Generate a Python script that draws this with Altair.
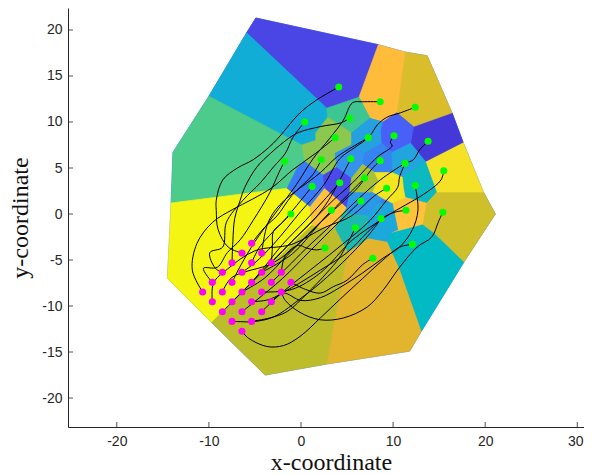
import altair as alt
import pandas as pd

xticks = [-20, -10, 0, 10, 20, 30]
yticks = [-20, -15, -10, -5, 0, 5, 10, 15, 20]

cells = [
 ("#3A7CF8", [(-5.9,19.7),(-4.9,21.3),(8.4,18.4),(11.3,17.6),(13.7,17.2),(16.4,11.0),(17.6,7.8),(19.8,2.4),(21.1,0.0),(17.7,-5.2),(13.1,-12.7),(11.8,-14.9),(2.8,-16.3),(-3.9,-17.5),(-9.7,-11.8),(-14.5,-7.0),(-14.1,1.2),(-13.9,6.7),(-10.0,12.8)]),
 ("#4A45E5", [(-5.9,19.7),(-4.9,21.3),(8.4,18.4),(6.3,12.7),(2.8,11.5)]),
 ("#12ADD6", [(-5.9,19.7),(2.8,11.5),(2.9,10.5),(1.6,8.8),(1.6,8.0),(0.1,7.5),(-10.0,12.8)]),
 ("#4DCB8A", [(-13.9,6.7),(-10.0,12.8),(0.1,7.5),(0.4,5.7),(-0.4,5.0),(-1.5,2.8),(-14.1,1.2)]),
 ("#F5F514", [(-14.1,1.2),(-1.5,2.8),(1.0,0.8),(1.2,-1.2),(-9.7,-11.8),(-14.5,-7.0)]),
 ("#BDBD2B", [(-9.7,-11.8),(1.2,-1.2),(2.1,-1.5),(3.7,-1.5),(5.1,-4.1),(2.8,-16.3),(-3.9,-17.5)]),
 ("#E3B52F", [(5.1,-4.1),(7.3,-2.6),(9.4,-3.0),(10.7,-5.9),(13.1,-12.7),(11.8,-14.9),(2.8,-16.3)]),
 ("#02BAC4", [(9.4,-3.0),(9.8,-2.0),(13.2,-1.1),(14.5,-2.1),(17.7,-5.2),(13.1,-12.7),(10.7,-5.9)]),
 ("#CFBF2B", [(13.2,-1.1),(13.6,1.2),(14.7,2.4),(19.8,2.4),(21.1,0.0),(17.7,-5.2),(14.5,-2.1)]),
 ("#F5E126", [(17.6,7.8),(13.5,5.7),(14.7,2.4),(19.8,2.4)]),
 ("#4538D8", [(16.4,11.0),(17.6,7.8),(13.5,5.7),(11.9,7.7),(12.2,9.5)]),
 ("#D9BD2A", [(11.3,17.6),(13.7,17.2),(16.4,11.0),(12.2,9.5),(10.4,11.0)]),
 ("#FFBB3A", [(8.4,18.4),(11.3,17.6),(10.4,11.0),(8.9,10.0),(7.5,10.4),(6.3,12.7)]),
 ("#3DC692", [(2.8,11.5),(6.3,12.7),(7.5,10.4),(5.5,8.8),(3.1,10.4),(2.9,10.5)]),
 ("#8CC74F", [(2.9,10.5),(3.1,10.4),(5.5,8.8),(5.5,7.5),(3.7,6.6),(3.9,5.1),(2.4,4.2),(0.4,5.7),(0.1,7.5),(1.6,8.0),(1.6,8.8)]),
 ("#3A7CF8", [(-1.5,2.8),(-0.4,5.0),(0.4,5.7),(2.4,4.2),(2.6,2.8),(1.0,0.8)]),
 ("#FFC23B", [(1.0,0.8),(2.6,2.8),(3.9,1.7),(5.0,0.7),(3.7,-1.5),(2.1,-1.5),(1.2,-1.2)]),
 ("#4A4AE8", [(2.4,4.2),(3.9,5.1),(5.5,3.9),(5.3,2.4),(5.0,0.7),(3.9,1.7),(2.6,2.8)]),
 ("#3593EE", [(3.7,6.6),(5.5,7.5),(6.9,6.6),(6.7,5.4),(5.5,3.9),(3.9,5.1)]),
 ("#25A0E0", [(5.5,8.8),(7.5,10.4),(8.9,10.0),(8.7,9.1),(8.8,7.7),(6.9,6.6),(5.5,7.5)]),
 ("#4860F8", [(8.7,9.1),(8.9,10.0),(10.4,11.0),(12.2,9.5),(11.9,7.7),(9.9,6.7),(8.8,7.7)]),
 ("#3584F0", [(6.9,6.6),(8.8,7.7),(9.9,6.7),(9.9,4.5),(8.0,4.5),(6.7,5.4)]),
 ("#22A5DE", [(9.9,6.7),(11.9,7.7),(13.5,5.7),(11.0,4.0),(9.9,4.5)]),
 ("#0DB9C0", [(11.0,4.0),(13.5,5.7),(14.7,2.4),(13.6,1.2),(11.3,1.8),(11.1,2.9)]),
 ("#FFC23B", [(9.9,1.2),(11.3,1.8),(13.6,1.2),(13.2,-1.1),(9.8,-2.0),(10.5,-1.7)]),
 ("#1CA8DA", [(7.2,-0.1),(8.3,1.2),(9.9,1.2),(10.5,-1.7),(9.8,-2.0),(9.4,-3.0),(7.3,-2.6)]),
 ("#1DB9B0", [(5.0,0.7),(5.1,0.1),(7.2,-0.1),(7.3,-2.6),(5.1,-4.1),(3.7,-1.5)]),
 ("#2D97E8", [(5.0,0.7),(5.3,2.4),(6.2,2.4),(7.8,2.4),(8.9,1.7),(8.3,1.2),(7.2,-0.1),(5.1,0.1)]),
 ("#A5C23A", [(5.5,3.9),(6.7,5.4),(8.0,4.5),(8.4,3.7),(7.8,2.4),(6.2,2.4),(5.3,2.4)]),
 ("#F4E522", [(8.0,4.5),(9.9,4.5),(11.0,4.0),(11.1,2.9),(11.3,1.8),(9.9,1.2),(8.9,1.7),(7.8,2.4),(8.4,3.7)]),
]

paths = [
 [(4.1,13.8),(1.7,12.4),(-0.1,11.0),(-3.0,7.7),(-5.2,5.9),(-6.9,5.0),(-8.5,3.7),(-9.2,1.5),(-9.2,0.4),(-9.0,-1.7),(-7.9,-3.6),(-6.41,-4.24)],
 [(5.3,10.4),(4.3,9.9),(2.1,9.5),(-0.4,8.8),(-1.9,7.8),(-3.3,6.6),(-4.8,5.1),(-6.1,2.9),(-6.6,1.5),(-7.2,-0.5),(-7.4,-3.0),(-7.49,-5.29)],
 [(0.4,10.0),(-0.9,8.3),(-1.7,6.6),(-3.0,5.1),(-4.4,3.4),(-6.3,1.5),(-8.1,-0.9),(-8.5,-3.6),(-9.9,-4.2),(-9.3,-5.9),(-8.54,-6.34)],
 [(-1.8,5.7),(-2.4,4.5),(-3.4,2.3),(-5.2,-0.7),(-6.6,-2.8),(-8.0,-4.2),(-9.1,-5.8),(-10.6,-5.9),(-9.63,-7.43)],
 [(3.7,8.3),(1.6,6.6),(-0.9,4.8),(-3.1,2.9),(-5.3,1.6),(-7.4,0.5),(-9.6,-0.9),(-11.3,-3.2),(-11.8,-6.1),(-10.68,-8.48)],
 [(15.4,0.2),(14.9,-0.9),(14.2,-2.5),(12.6,-3.6),(10.7,-5.8),(8.9,-8.3),(7.2,-10.1),(4.6,-11.3),(2.1,-11.5),(-0.1,-10.7),(-1.7,-9.4),(-2.14,-8.48)],
 [(7.8,-4.8),(6.7,-5.5),(5.0,-7.2),(3.5,-7.9),(2.1,-8.6),(0.5,-8.2),(-1.09,-7.43)],
 [(2.6,-3.7),(1.7,-3.9),(0.6,-3.7),(-0.3,-3.4),(-1.7,-4.5),(-2.14,-6.34)],
 [(12.4,3.1),(12.7,0.4),(12.1,-1.7),(10.7,-3.6),(8.9,-4.8),(6.7,-6.4),(4.2,-8.0),(2.1,-9.1),(0.0,-9.4),(-1.9,-8.6),(-3.22,-9.53)],
 [(12.1,-3.3),(10.7,-3.6),(8.9,-5.0),(6.7,-7.0),(4.2,-9.3),(2.1,-11.3),(-0.1,-13.3),(-1.9,-14.3),(-3.7,-14.4),(-5.7,-13.5),(-6.41,-12.75)],
 [(5.9,-1.5),(4.2,-4.7),(2.8,-6.4),(0.7,-8.6),(-1.5,-10.6),(-3.4,-11.3),(-5.36,-11.67)],
 [(8.7,-0.5),(7.5,-2.1),(5.3,-4.5),(2.1,-7.5),(0.2,-9.0),(-3.0,-11.2),(-5.2,-11.7),(-6.6,-11.7),(-7.49,-11.67)],
 [(3.3,0.4),(1.7,-1.4),(-0.9,-4.3),(-4.27,-6.34)],
 [(-1.1,0.0),(-3.0,-1.9),(-4.5,-3.6),(-5.36,-5.29)],
 [(1.2,3.0),(0.0,1.5),(-2.0,-0.9),(-3.0,-1.9),(-3.1,-3.6),(-3.22,-5.29)],
 [(2.2,5.9),(1.3,4.3),(-1.0,2.0),(-2.6,-0.2),(-4.0,-1.5),(-5.36,-3.19)],
 [(7.3,8.3),(5.6,7.3),(3.9,6.2),(2.1,4.5),(-2.3,1.0),(-3.6,-1.0),(-4.27,-4.24)],
 [(12.4,11.6),(10.8,11.0),(9.3,10.5),(8.3,9.7),(7.4,8.4),(5.8,7.2),(4.2,6.0),(2.5,3.2),(0.0,0.3),(-3.0,-3.3),(-5.0,-5.3),(-6.41,-6.34)],
 [(8.6,12.2),(6.7,12.2),(5.6,12.1),(4.6,10.2),(3.1,8.2),(1.3,6.0),(-0.5,3.2),(-3.0,-0.2),(-5.0,-3.0),(-6.5,-5.5),(-7.49,-7.43)],
 [(10.1,8.5),(9.7,7.8),(9.9,7.4),(8.3,6.2),(5.6,3.4),(3.5,1.5),(1.0,-1.0),(-2.0,-4.0),(-4.5,-6.5),(-5.36,-7.43)],
 [(13.8,7.9),(12.9,7.0),(12.2,5.9),(11.3,5.5),(8.6,3.7),(6.4,1.8),(3.5,-1.0),(0.5,-3.8),(-1.5,-5.8),(-3.22,-7.43)],
 [(15.5,4.7),(15.2,3.7),(13.7,2.4),(10.0,0.2),(8.6,-0.7),(5.6,-2.8),(2.1,-6.4),(-1.0,-8.2),(-4.27,-8.48)],
 [(11.4,0.4),(10.2,0.2),(8.9,-0.4),(7.2,-2.0),(5.0,-4.2),(2.1,-6.1),(-1.0,-8.0),(-3.5,-9.3),(-5.36,-9.53)],
 [(11.3,5.5),(10.7,4.0),(10.5,2.9),(9.3,1.5),(7.5,-0.7),(4.5,-3.3),(1.5,-5.7),(-2.0,-8.5),(-4.27,-10.62)],
 [(8.6,5.8),(7.7,4.9),(6.2,2.9),(4.2,1.0),(1.5,-1.5),(-1.5,-4.5),(-4.0,-7.0),(-6.41,-8.48)],
 [(5.4,6.0),(5.0,5.2),(3.0,1.5),(1.5,-0.5),(-1.0,-3.0),(-3.2,-5.3),(-8.54,-10.62)],
 [(4.2,3.4),(2.5,1.5),(0.5,-0.7),(-2.0,-3.3),(-5.0,-7.0),(-7.49,-9.53)],
 [(6.9,3.9),(5.0,2.0),(2.5,-0.5),(0.0,-3.0),(-3.0,-5.3),(-7.5,-6.9),(-8.54,-8.48)],
 [(9.3,2.8),(8.0,2.0),(5.5,-0.2),(2.5,-1.5),(-1.0,-3.3),(-5.0,-4.0),(-8.0,-6.0),(-9.5,-7.5),(-9.63,-9.53)],
 [(6.5,1.4),(4.0,-1.0),(1.0,-4.0),(-2.0,-7.0),(-5.0,-9.5),(-6.41,-10.62)],
]

cell_rows = [
    {"cell": f"{c:02d}", "i": i, "x": p[0], "y": p[1], "col": col}
    for c, (col, pts) in enumerate(cells)
    for i, p in enumerate(pts)
]
path_rows = [
    {"path": c, "i": i, "x": p[0], "y": p[1]}
    for c, pts in enumerate(paths)
    for i, p in enumerate(pts)
]
green = [{"x": p[0][0], "y": p[0][1]} for p in paths]
magenta = [{"x": p[-1][0], "y": p[-1][1]} for p in paths]

H = 419
W = 516
xs = alt.Scale(domain=[-25.3, 30.73], nice=False, zero=False)
ys = alt.Scale(domain=[-23.15, 22.39], nice=False, zero=False)
axis_common = dict(grid=False, ticks=False, domainColor="#262626", domainWidth=1,
                   labelColor="#262626", labelFont="Liberation Sans", labelFontSize=14,
                   titleFont="Liberation Serif", titleFontSize=24, titleFontWeight="normal",
                   titleColor="#111111", labelExpr="'' + datum.value")
xax = alt.Axis(values=xticks, title="x-coordinate", labelPadding=7, titleX=263, titleY=23,
               titleBaseline="top", labelBound=False, labelFlush=False,
               labelOffset={"condition": {"test": "datum.value == 30", "value": -2}, "value": 0},
               **axis_common)
yax = alt.Axis(values=yticks, title="y-coordinate", labelPadding=6, titleX=-36, **axis_common)

x = alt.X("x:Q", scale=xs, axis=xax)
y = alt.Y("y:Q", scale=ys, axis=yax)

polys = alt.Chart(pd.DataFrame(cell_rows)).mark_line(strokeWidth=0.7, interpolate="linear-closed").encode(
    x=x, y=y, order="i:Q", detail="cell:N",
    fill=alt.Fill("col:N", scale=None), stroke=alt.Stroke("col:N", scale=None),
)
lines = alt.Chart(pd.DataFrame(path_rows)).mark_line(
    color="black", strokeWidth=1.0, interpolate="catmull-rom"
).encode(x=alt.X("x:Q"), y=alt.Y("y:Q"), order="i:Q", detail="path:N")
gpts = alt.Chart(pd.DataFrame(green)).mark_circle(color="#00FF00", opacity=1, size=50).encode(
    x=alt.X("x:Q"), y=alt.Y("y:Q"))
mpts = alt.Chart(pd.DataFrame(magenta)).mark_circle(color="#FF00FF", opacity=1, size=50).encode(
    x=alt.X("x:Q"), y=alt.Y("y:Q"))
xt = alt.Chart(pd.DataFrame({"t": xticks})).mark_rule(color="#262626", strokeWidth=0.8).encode(
    x=alt.X("t:Q"), y=alt.value(H), y2=alt.value(H - 5))
yt = alt.Chart(pd.DataFrame({"t": yticks})).mark_rule(color="#262626", strokeWidth=0.8).encode(
    y=alt.Y("t:Q"), x=alt.value(0), x2=alt.value(5))

chart = alt.layer(polys, lines, gpts, mpts, xt, yt).properties(
    width=W, height=H, autosize="none",
    padding={"left": 60, "top": 0, "right": 0, "bottom": 48},
).configure_view(stroke=None)

chart.save("out.html", embed_options={"renderer": "svg", "actions": False})
